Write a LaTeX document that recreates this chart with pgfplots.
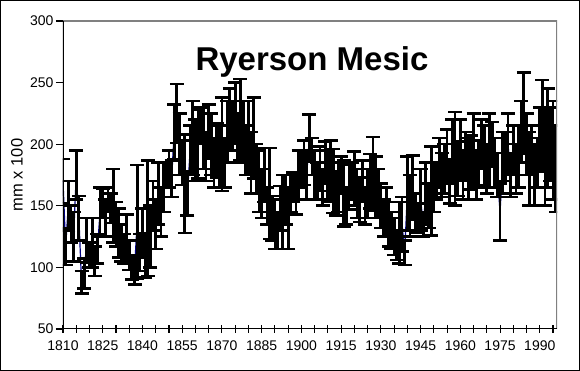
\documentclass[border=0pt]{standalone}
\usepackage{fontspec}
\setmainfont{Liberation Sans}
\usepackage{pgfplots}
\pgfplotsset{compat=1.18}
\usepackage{pgfplotstable}

% year, value (mm x 100), error bar half-length
\pgfplotstableread{
yr v e
1810 170 18
1811 117 15
1812 150 20
1813 135 15
1814 125 20
1815 175 20
1816 140 18
1817 88 9
1818 95 12
1819 122 18
1820 110 10
1821 120 20
1822 105 12
1823 115 12
1824 145 20
1825 152 12
1826 140 15
1827 155 10
1828 148 12
1829 150 30
1830 135 18
1831 128 20
1832 120 15
1833 115 12
1834 125 18
1835 110 12
1836 100 10
1837 98 12
1838 137 46
1839 112 15
1840 128 20
1841 110 18
1842 140 47
1843 125 25
1844 150 20
1845 135 20
1846 160 25
1847 145 20
1848 165 20
1849 175 10
1850 180 15
1851 172 15
1852 210 22
1853 225 24
1854 200 25
1855 185 18
1856 168 40
1857 160 18
1858 195 20
1859 205 30
1860 195 25
1861 200 28
1862 215 15
1863 205 25
1864 190 20
1865 210 22
1866 200 25
1867 185 20
1868 195 22
1869 190 25
1870 200 38
1871 185 20
1872 210 25
1873 220 25
1874 215 20
1875 225 25
1876 205 20
1877 220 33
1878 210 25
1879 195 20
1880 205 30
1881 185 25
1882 205 33
1883 180 20
1884 170 25
1885 160 20
1886 175 22
1887 150 15
1888 160 37
1889 140 18
1890 135 20
1891 130 15
1892 148 18
1893 145 30
1894 155 20
1895 140 25
1896 160 15
1897 165 12
1898 158 15
1899 175 20
1900 180 15
1901 185 18
1902 175 20
1903 205 19
1904 190 15
1905 175 20
1906 170 15
1907 180 18
1908 165 15
1909 185 17
1910 175 20
1911 178 25
1912 170 26
1913 160 18
1914 165 20
1915 175 15
1916 160 27
1917 150 15
1918 165 18
1919 170 15
1920 172 22
1921 160 20
1922 155 18
1923 170 17
1924 150 15
1925 160 20
1926 170 22
1927 176 30
1928 165 25
1929 160 20
1930 150 18
1931 140 15
1932 145 20
1933 135 18
1934 130 15
1935 125 15
1936 118 12
1937 128 25
1938 135 22
1939 112 10
1940 160 30
1941 150 25
1942 165 26
1943 145 15
1944 140 12
1945 155 25
1946 135 10
1947 160 25
1948 150 18
1949 162 36
1950 165 20
1951 170 15
1952 185 20
1953 175 18
1954 180 20
1955 190 22
1956 170 18
1957 195 25
1958 188 38
1959 180 22
1960 195 25
1961 175 20
1962 190 20
1963 180 25
1964 185 22
1965 195 30
1966 175 20
1967 185 18
1968 200 20
1969 190 25
1970 180 20
1971 195 30
1972 200 18
1973 185 20
1974 175 18
1975 145 23
1976 185 25
1977 190 20
1978 200 25
1979 175 18
1980 195 20
1981 180 20
1982 190 25
1983 210 25
1984 225 33
1985 200 25
1986 180 30
1987 195 20
1988 175 25
1989 185 20
1990 205 25
1991 215 37
1992 190 40
1993 205 40
1994 200 30
1995 195 40
1996 180 35
}\ryerson

\definecolor{navyline}{RGB}{0,0,128}

\begin{document}
\begin{tikzpicture}
\begin{axis}[
    width=494pt, height=308pt, scale only axis,
    xmin=1810, xmax=1996.5, ymin=50, ymax=300,
    axis line style={draw=none},
    xtick pos=bottom, ytick pos=left,
    xtick={1810,1825,...,1990},
    minor xtick={1815,1820,...,1995},
    ytick={50,100,...,300},
    tick align=center,
    major tick length=8pt, minor tick length=8pt,
    every tick/.style={black, line width=1.1pt},
    y tick style={xshift=-3pt},
    /pgf/number format/1000 sep={},
    /pgf/number format/assume math mode=true,
    tick label style={font=\fontsize{14}{16}\selectfont},
    xticklabel style={yshift=-4pt},
    yticklabel style={xshift=-2pt},
    ylabel={mm x 100},
    every axis y label/.style={at={([xshift=-46pt]axis description cs:0,0.5)}, rotate=90, anchor=center, font=\fontsize{16.5}{18}\selectfont},
]
\addplot[navyline, line width=1.2pt, no markers,
    error bars/.cd, y dir=both, y explicit,
    error bar style={black, line width=2.8pt},
    error mark options={rotate=90, black, mark size=7pt, line width=2.6pt}]
    table[x=yr, y=v, y error=e] {\ryerson};
\draw[gray, line width=1.5pt] (rel axis cs:0,1) -- (rel axis cs:1,1) -- (rel axis cs:1,0);
\draw[black, line width=1.2pt] (rel axis cs:0,1) -- (rel axis cs:0,0) -- (rel axis cs:1,0);
\node[font=\bfseries\fontsize{33}{36}\selectfont, anchor=base] at (rel axis cs:0.504,0.84) {Ryerson Mesic};
\end{axis}
\draw[black, line width=1pt] (-62.5pt,-41.5pt) rectangle (516.5pt,328.5pt);
\end{tikzpicture}
\end{document}
